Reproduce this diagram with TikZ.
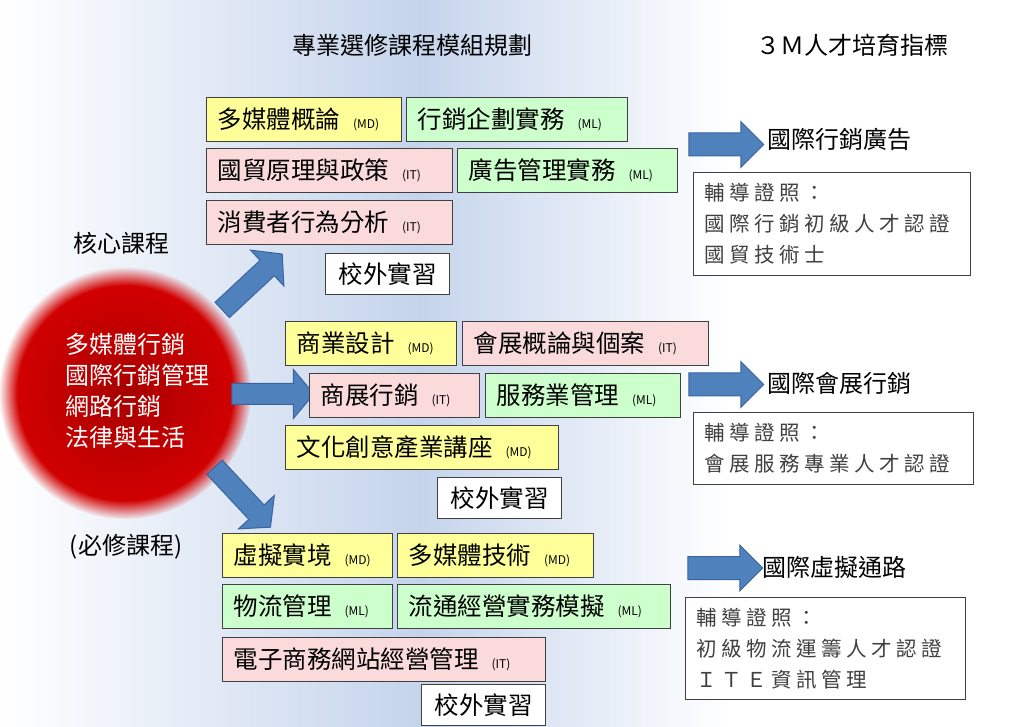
\documentclass[tikz,border=0pt]{standalone}
\usepackage{fontspec}
\setmainfont{Noto Sans CJK TC}
\newfontfamily\certfont[LetterSpace=22]{Noto Sans CJK TC}
\usepackage{tikz}
\tikzset{x=1pt, y=-1pt}
\usetikzlibrary{shapes,shapes.arrows,fadings}
\definecolor{mdcol}{HTML}{FFFF99}
\definecolor{mlcol}{HTML}{CCFFCC}
\definecolor{itcol}{HTML}{FADADA}
\definecolor{boxedge}{HTML}{404040}
\definecolor{bgblue}{HTML}{C5D4EC}
\definecolor{arrowblue}{HTML}{4F81BD}
\definecolor{arrowedge}{HTML}{3A64A0}
\definecolor{coredark}{HTML}{A80000}
\definecolor{corered}{HTML}{D80000}
\definecolor{certtext}{HTML}{404040}
\tikzset{coursebox/.style={draw=boxedge, line width=1.3pt, anchor=north west, minimum height=44pt, inner xsep=11pt, inner ysep=0pt, font=\fontsize{24.5}{24}\selectfont},
  internbox/.style={draw=boxedge, line width=1.3pt, fill=white, anchor=north west, minimum width=124pt, minimum height=41pt, inner sep=0pt, font=\fontsize{24.5}{24}\selectfont},
  certbox/.style={draw=boxedge, line width=1pt, fill=white, anchor=north west, inner xsep=11pt, inner ysep=0pt, align=left, text=certtext, font=\certfont\fontsize{20.5}{31}\selectfont},
  bigtext/.style={inner sep=0pt, font=\fontsize{24}{31}\selectfont},
  sidearrow/.style={single arrow, draw=arrowedge, line width=1pt, fill=arrowblue, minimum height=75pt, inner xsep=0pt, inner ysep=11pt, single arrow head extend=11.5pt},
  mainarrow/.style={single arrow, draw=arrowedge, line width=1pt, fill=arrowblue, minimum height=82pt, inner xsep=0pt, inner ysep=10pt, single arrow head extend=14pt, single arrow tip angle=100}}
\newcommand{\modtag}[1]{{\fontsize{12}{12}\selectfont(#1)}}
\newcommand{\course}[5]{node[coursebox, fill=#2, minimum width=#3pt](#1) {\makebox[\dimexpr#3pt-22pt\relax][l]{#4\hspace{13pt}\modtag{#5}}}}
\newcommand{\intern}[1]{node[internbox](#1) {校外實習}}

\begin{document}
\begin{tikzpicture}
\useasboundingbox (0,0) rectangle (1029,727);
\fill[left color=white, right color=bgblue] (0,0) rectangle (420,727);
\fill[left color=bgblue, right color=white] (420,0) rectangle (730,727);

\draw (412,45) node[bigtext](moduletitle) {專業選修課程模組規劃};
\draw (852,45) node[bigtext](indextitle) {３Ｍ人才培育指標};

\shade[inner color=coredark, outer color=corered, path fading=circle with fuzzy edge 15 percent] (125,393) circle (126pt);
\draw (65,391) node[bigtext, anchor=west, align=left, text=white](core) {多媒體行銷\\國際行銷管理\\網路行銷\\法律與生活};
\draw (121,243) node[bigtext](corelabel) {核心課程};
\draw (126,547) node[bigtext](requiredlabel) {(必修課程)};

\draw (249,285) node[mainarrow, rotate=43](toupper) {};
\draw (268.5,394) node[mainarrow](tomiddle) {};
\draw (239.5,494) node[mainarrow, rotate=-47](tolower) {};

\draw (206,97) \course{mmintro}{mdcol}{195}{多媒體概論}{MD};
\draw (406,97) \course{mktplan}{mlcol}{221}{行銷企劃實務}{ML};
\draw (206,148) \course{tradepol}{itcol}{246}{國貿原理與政策}{IT};
\draw (457,148) \course{admgmt}{mlcol}{220}{廣告管理實務}{ML};
\draw (206,200) \course{consumer}{itcol}{246}{消費者行為分析}{IT};
\draw (325,253) \intern{internA};

\draw (285,321) \course{bizdesign}{mdcol}{171}{商業設計}{MD};
\draw (462,321) \course{exhibcase}{itcol}{246}{會展概論與個案}{IT};
\draw (309,373) \course{exhibmkt}{itcol}{170}{商展行銷}{IT};
\draw (485,373) \course{service}{mlcol}{195}{服務業管理}{ML};
\draw (285,425) \course{culture}{mdcol}{273}{文化創意產業講座}{MD};
\draw (437,477) \intern{internB};

\draw (222,533) \course{virtual}{mdcol}{170}{虛擬實境}{MD};
\draw (397,533) \course{mmtech}{mdcol}{196}{多媒體技術}{MD};
\draw (222,584) \course{logistics}{mlcol}{170}{物流管理}{ML};
\draw (397,584) \course{distrib}{mlcol}{273}{流通經營實務模擬}{ML};
\draw (222,637) \course{ecommerce}{itcol}{323}{電子商務網站經營管理}{IT};
\draw (421,684) \intern{internC};

\draw (720.5,144.5) node[sidearrow](toadv) {};
\draw (767,139) node[bigtext, anchor=west](goaladv) {國際行銷廣告};
\draw (693,172) node[certbox, text width=255pt, minimum height=103pt](certadv) {輔導證照：\\國際行銷初級人才認證\\國貿技術士};

\draw (720.5,384.5) node[sidearrow](toexhib) {};
\draw (767,383) node[bigtext, anchor=west](goalexhib) {國際會展行銷};
\draw (693,412) node[certbox, text width=258pt, minimum height=72pt](certexhib) {輔導證照：\\會展服務專業人才認證};

\draw (719.5,568) node[sidearrow](tovirt) {};
\draw (762,567) node[bigtext, anchor=west](goalvirt) {國際虛擬通路};
\draw (685,597) node[certbox, text width=258pt, minimum height=102pt](certvirt) {輔導證照：\\初級物流運籌人才認證\\ＩＴＥ資訊管理};
\end{tikzpicture}
\end{document}
